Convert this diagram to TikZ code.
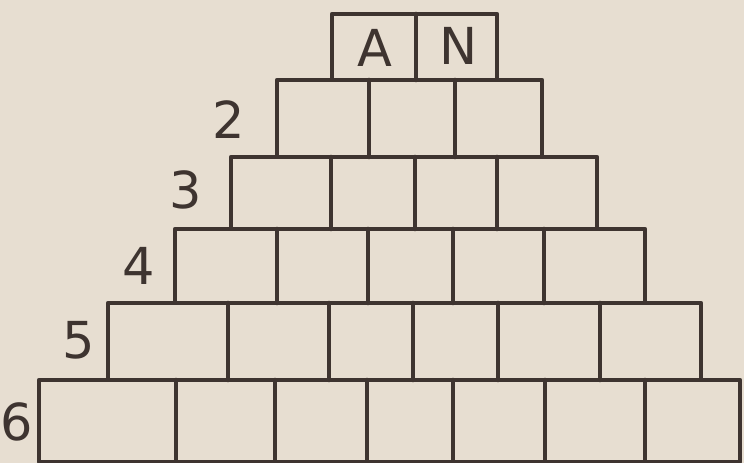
\documentclass[tikz,border=0pt]{standalone}
\usepackage{fontspec}
\setmainfont{DejaVu Sans}
\usetikzlibrary{positioning}
\definecolor{paperbeige}{HTML}{E7DED1}
\definecolor{inkbrown}{HTML}{3E3430}

\begin{document}
\begin{tikzpicture}[x=0.02cm, y=-0.02cm,
    brick/.style={draw=inkbrown, line width=2.6pt, line join=round, line cap=round},
    letter/.style={font=\fontsize{29}{31}\selectfont, inkbrown},
    rownum/.style={font=\fontsize{29}{31}\selectfont, inkbrown}]
  % Papier
  \fill[paperbeige] (0,0) rectangle (744,463);
  \useasboundingbox (0,0) rectangle (744,463);
  % Rangee 1 (sommet)
  \draw[brick] (332,14) rectangle (497,80);
  \draw[brick] (416,14) -- (416,80);
  \node[letter] (lettreA) at (375,48) {A};
  \node[letter] (lettreN) at (459,46) {N};
  % Rangee 2
  \draw[brick] (277,80) rectangle (542,157);
  \foreach \x in {369,455} \draw[brick] (\x,80) -- (\x,157);
  \node[rownum] (num2) at (229,120) {2};
  % Rangee 3
  \draw[brick] (231,157) rectangle (597,229);
  \foreach \x in {331,415,497} \draw[brick] (\x,157) -- (\x,229);
  \node[rownum] (num3) at (186,190) {3};
  % Rangee 4
  \draw[brick] (175,229) rectangle (645,303);
  \foreach \x in {277,368,453,544} \draw[brick] (\x,229) -- (\x,303);
  \node[rownum] (num4) at (139,266) {4};
  % Rangee 5
  \draw[brick] (108,303) rectangle (701,380);
  \foreach \x in {228,329,413,498,600} \draw[brick] (\x,303) -- (\x,380);
  \node[rownum] (num5) at (79,340) {5};
  % Rangee 6 (base)
  \draw[brick] (39,380) rectangle (740,462);
  \foreach \x in {176,275,367,453,545,645} \draw[brick] (\x,380) -- (\x,462);
  \node[rownum] (num6) at (17,422) {6};
\end{tikzpicture}
\end{document}
